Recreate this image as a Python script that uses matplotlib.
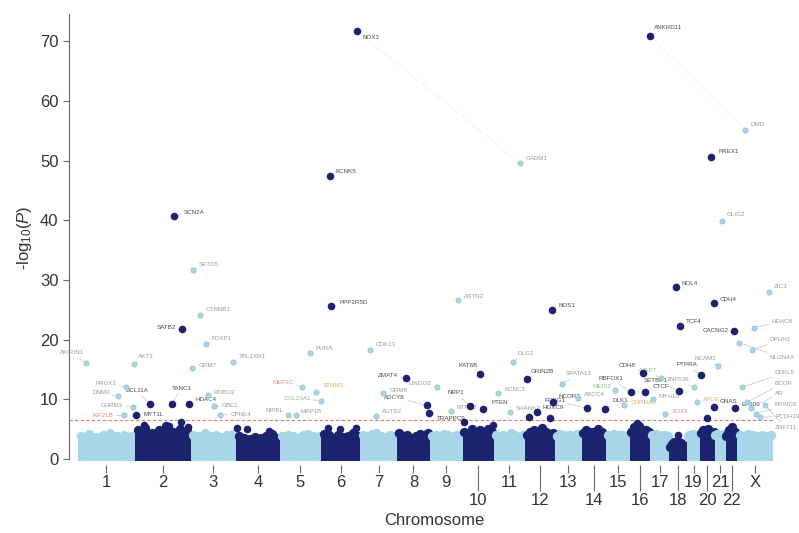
import numpy as np
import matplotlib.pyplot as plt

plt.rcParams['font.family'] = ['Liberation Sans', 'DejaVu Sans']
plt.rcParams['mathtext.fontset'] = 'custom'
plt.rcParams['mathtext.rm'] = 'Liberation Sans'
plt.rcParams['mathtext.it'] = 'Liberation Sans:italic'

# chromosome layout (Mb)
chrom_names = ['1', '2', '3', '4', '5', '6', '7', '8', '9', '10', '11', '12',
               '13', '14', '15', '16', '17', '18', '19', '20', '21', '22', 'X']
chrom_len = [249, 243, 198, 191, 181, 171, 159, 146, 141, 136, 135, 134,
             115, 107, 103, 90, 81, 78, 59, 63, 48, 51, 155]

# upper edge of the dense background cloud, per chromosome bins (-log10 P)
cloud_top = [
    [3.9, 4.2, 3.7, 4.0, 4.3, 3.8, 4.1, 3.9],
    [4.8, 5.2, 4.4, 4.9, 5.6, 4.6, 5.0, 4.7],
    [4.0, 3.8, 4.3, 3.9, 4.1, 3.7, 4.0, 4.2],
    [3.9, 3.6, 3.4, 3.7, 3.5, 3.9, 4.2, 3.6],
    [3.8, 4.1, 3.9, 3.6, 4.0, 4.2, 3.8, 3.9],
    [4.2, 4.0, 3.6, 4.1, 3.7, 3.9, 4.3, 3.8],
    [4.0, 3.8, 4.2, 4.4, 3.9, 3.7, 4.1, 3.9],
    [4.3, 3.9, 4.1, 3.6, 3.8, 4.2, 4.0, 4.4],
    [3.9, 4.1, 3.8, 4.2, 4.0, 3.7, 4.1, 3.9],
    [4.6, 4.2, 5.1, 4.4, 4.8, 4.3, 5.0, 4.5],
    [4.0, 3.8, 4.1, 3.9, 4.3, 4.0, 3.7, 4.1],
    [4.1, 4.5, 4.8, 4.3, 5.2, 4.6, 4.2, 4.4],
    [3.9, 4.2, 4.0, 3.8, 4.1, 3.9, 4.2, 4.0],
    [4.4, 4.9, 4.2, 4.6, 4.3, 5.0, 4.5, 4.1],
    [4.0, 3.8, 4.2, 3.9, 4.1, 4.0, 3.8, 4.1],
    [4.6, 5.4, 4.8, 5.6, 5.0, 4.4, 4.9, 4.5],
    [4.1, 3.9, 4.2, 4.0, 3.8, 4.1, 4.0, 3.9],
    [2.0, 2.5, 2.8, 2.6, 2.9, 2.7, 2.4, 2.1],
    [3.9, 4.1, 3.8, 4.2, 4.0, 3.9, 4.1, 4.0],
    [4.3, 4.8, 4.2, 4.6, 5.0, 4.4, 4.1, 4.5],
    [4.0, 4.2, 3.9, 4.1, 3.8, 4.0, 4.2, 3.9],
    [3.8, 4.4, 4.9, 4.2, 5.3, 4.0, 4.6, 3.9],
    [4.1, 3.9, 4.2, 4.0, 3.8, 4.1, 3.9, 4.0],
]

# top hits: chromosome, position (Mb), -log10 P, gene
hit_chrom = ['6', '16', '20', '6', '2', '6', '12', '2', '18', '20', '18', '22',
             '8', '10', '12', '2', '2', '2', '2', '8', '8', '10', '10', '12',
             '12', '14', '14', '16', '16', '16', '18', '20', '20', '22',
             '1', '1', '1', '1', '1', '1', '3', '3', '3', '3', '3', '3', '3', '3',
             '5', '5', '5', '5', '5', '5', '7', '7', '7', '9', '9', '9',
             '11', '11', '11', '11', '13', '13', '15', '15', '17', '17', '17',
             '19', '19', '21', '21', 'X', 'X', 'X', 'X', 'X', 'X', 'X', 'X',
             'X', 'X', 'X',
             '2', '2', '2', '2', '4', '4', '4', '6', '6', '6', '8', '10', '10',
             '12', '12', '16', '18', '20']
hit_pos = [156, 88, 47, 38, 170, 43, 120, 205, 31, 60, 49, 37,
           40, 76, 11, 65, 160, 238, 4, 132, 140, 33, 90, 54,
           124, 24, 102, 5, 60, 67, 45, 3, 58, 41,
           35, 245, 240, 200, 210, 175, 10, 41, 67, 7, 185, 75, 100, 130,
           97, 132, 160, 178, 36, 70, 40, 100, 69, 121, 30, 90,
           115, 85, 20, 70, 30, 100, 40, 80, 45, 10, 65,
           30, 45, 32, 15, 34, 138, 64, 72, 6, 20, 40, 60,
           80, 100, 120,
           40, 199, 150, 230, 4, 48, 144, 30, 82, 152, 5, 5, 133,
           20, 110, 30, 40, 30]
hit_logp = [71.7, 70.9, 50.6, 47.4, 40.7, 25.6, 25.0, 21.8, 28.8, 26.1, 22.3, 21.4,
            13.6, 14.2, 13.4, 9.2, 9.2, 9.2, 7.4, 9.0, 7.7, 8.9, 8.4, 7.9,
            9.5, 8.5, 8.4, 11.2, 14.4, 11.2, 11.4, 14.1, 8.7, 8.5,
            16.1, 15.9, 8.7, 7.3, 12.0, 10.5, 31.7, 24.1, 19.3, 15.2, 16.3, 10.7, 8.8, 7.4,
            12.1, 17.7, 11.3, 9.8, 7.4, 7.3, 18.3, 11.0, 7.2, 26.6, 12.0, 8.0,
            49.6, 16.3, 11.0, 7.8, 12.6, 10.3, 11.5, 9.0, 13.5, 10.0, 7.5,
            12.0, 9.5, 39.9, 15.5, 55.1, 28.0, 18.3, 22.0, 19.5, 12.0, 9.5, 8.6,
            7.6, 7.0, 9.0,
            5.7, 6.2, 5.5, 5.4, 5.2, 5.0, 4.7, 5.2, 5.0, 5.2, 4.3, 6.2, 5.7,
            7.0, 6.9, 6.0, 4.0, 6.9]
hit_gene = ['NOX3', 'ANKRD11', 'PREX1', 'KCNK5', 'SCN2A', 'PPP2R5D', 'NOS1', 'SATB2',
            'NOL4', 'CDH4', 'TCF4', 'CACNG2',
            'ZMAT4', 'KAT6B', 'GRIN2B', 'BCL11A', 'TANC1', 'HDAC4', 'MYT1L', 'ADCY8',
            'TRAPPC9', 'NRP1', 'PTEN', 'HOXC9',
            'NCOR2', 'FOXG1', 'DLK1', 'RBFOX1', 'CDH8', 'CTCF', 'SETBP1', 'PTPRA', 'GNAS',
            'EP300',
            'AKIRIN1', 'AKT3', 'CHRM3', 'KIF21B', 'PROX1', 'DNM3', 'SETD5', 'CTNNB1',
            'FOXP1', 'GRM7', 'TBL1XR1', 'ROBO2', 'GBE1', 'CPNE4',
            'MEF2C', 'PURA', 'TENM2', 'COL23A1', 'NIPBL', 'MAP1B', 'CDK13', 'GRM8',
            'AUTS2', 'ASTN2', 'LINGO2', 'NTRK2',
            'CADM1', 'DLG2', 'KCNC1', 'SHANK2', 'SPATA13', 'ABCC4', 'MEIS2', 'CHRNA5',
            'MAPT', 'MYH10', 'SOX9',
            'ZNF536', 'APOE', 'OLIG2', 'NCAM2', 'DMD', 'ZIC3', 'OPHN1', 'HDAC8',
            'NLGN4X', 'CDKL5', 'BCOR', 'AR',
            'BRWD3', 'PCDH19', 'ZNF711'] + [''] * 18

# label placement, offsets in pixels (dx right, dy down), same order as the hits
label_px = [(6, 7), (4, -8), (7, -5), (6, -5), (10, -4), (8, -4), (6, -4), (-6, -1),
            (6, -4), (6, -4), (6, -4), (-6, -1),
            (-8, -2), (-2, -9), (4, -8), (-2, -14), (0, -16), (6, -5), (8, 0), (-22, -8),
            (8, 5), (-6, -13), (8, -6), (6, -4),
            (6, -6), (-22, -8), (8, -8), (-8, -14), (-8, -8), (8, -6), (-12, -10),
            (-4, -10), (6, -6), (6, -4),
            (-2, -10), (4, -8), (-10, -2), (-10, 0), (-10, -4), (-8, -4), (6, -5), (6, -6),
            (6, -5), (6, -3), (6, -5), (6, -3), (8, -1), (10, 0),
            (-8, -4), (6, -5), (6, -6), (-10, -2), (-4, -4), (5, -4), (6, -5), (6, -3),
            (6, -5), (6, -4), (-6, -4), (6, -4),
            (6, -4), (4, -8), (6, -4), (6, -4), (4, -10), (6, -3), (-4, -4), (6, -3),
            (-4, -8), (6, -3), (6, -3),
            (-4, -8), (6, -3), (5, -6), (-2, -8), (5, -6), (5, -5), (18, -10), (18, -6),
            (31, 15), (33, -15), (28, -19), (24, -14),
            (19, -9), (15, -1), (10, 22)] + [(0, 0)] * 18

label_col = {'MEF2C': '#d98a8a', 'KIF21B': '#d98a8a', 'COL23A1': '#8fbf8f',
             'TENM2': '#d8b36e', 'MEIS2': '#8fbf8f', 'CHRNA5': '#d8b36e',
             'MAPT': '#8fbf8f', 'SOX9': '#d98a8a', 'APOE': '#d8b36e'}

light = '#a9d5e8'
dark = '#1c236e'

starts = np.concatenate([[0], np.cumsum(chrom_len)[:-1]])
centers = starts + np.array(chrom_len) / 2
cidx = {c: i for i, c in enumerate(chrom_names)}

fig = plt.figure(figsize=(7.99, 5.33), dpi=100)
ax = fig.add_axes([69 / 799, 68 / 533, 730 / 799, 453.75 / 533])

# background cloud
for i, tops in enumerate(cloud_top):
    col = dark if i % 2 == 1 and i < 22 else light
    n = len(tops)
    w = chrom_len[i] / n
    lefts = starts[i] + np.arange(n) * w
    tops = np.array(tops)
    ax.bar(lefts, tops + 0.3, width=w, bottom=-0.3, align='edge', color=col, lw=0, zorder=1)
    ax.scatter(lefts + w / 2, tops, s=45, color=col, lw=0, zorder=1)

# genome-wide significance line
ax.hlines(6.5, -39, starts[-1] + chrom_len[-1], colors='#e07a7a', linestyles=(0, (3, 2)),
          lw=0.8, zorder=2)

hx = np.array([starts[cidx[c]] + p for c, p in zip(hit_chrom, hit_pos)])
hy = np.array(hit_logp)
is_dark = np.array([cidx[c] % 2 == 1 and cidx[c] < 22 for c in hit_chrom])

# faint long leaders between the top hits
for a, b in [('NOX3', 'CADM1'), ('ANKRD11', 'DMD')]:
    ia, ib = hit_gene.index(a), hit_gene.index(b)
    ax.plot([hx[ia], hx[ib]], [hy[ia], hy[ib]], color='#dddddd', lw=0.6, ls=':', zorder=1)

ax.scatter(hx[is_dark], hy[is_dark], s=30, color=dark, lw=0, zorder=4)
ax.scatter(hx[~is_dark], hy[~is_dark], s=14, facecolor=light, edgecolor='#8bbfd6',
           lw=0.5, zorder=4)

for i, g in enumerate(hit_gene):
    if not g:
        continue
    dx, dy = label_px[i]
    col = label_col.get(g, '#4a4a4a' if is_dark[i] else '#9a9a9a')
    ax.annotate(g, (hx[i], hy[i]), xytext=(dx * 0.72, -dy * 0.72), textcoords='offset points',
                fontsize=4.5, color=col, ha='right' if dx < 0 else 'left', va='center',
                arrowprops=dict(arrowstyle='-', lw=0.4, color='#b5b5b5', shrinkA=0, shrinkB=2),
                zorder=3, annotation_clip=False)

ax.set_xlim(-39, 3148)
ax.set_ylim(-1, 75)

row2 = ['10', '12', '14', '16', '18', '20', '22']
maj = [i for i, c in enumerate(chrom_names) if c not in row2]
mnr = [i for i, c in enumerate(chrom_names) if c in row2]
ax.set_xticks(centers[maj], [chrom_names[i] for i in maj])
ax.set_xticks(centers[mnr], [chrom_names[i] for i in mnr], minor=True)
ax.tick_params(axis='x', which='major', length=5.5, width=0.8, color='#666', pad=1.5,
               labelsize=12, labelcolor='#333')
ax.tick_params(axis='x', which='minor', length=19, width=0.8, color='#666', pad=1.5,
               labelsize=12, labelcolor='#333')
ax.set_yticks(range(0, 71, 10))
ax.tick_params(axis='y', length=4, width=0.8, color='#666', labelsize=12, labelcolor='#333')

for s in ['top', 'right', 'bottom']:
    ax.spines[s].set_visible(False)
ax.spines['left'].set_bounds(0, 74.5)
ax.spines['left'].set_color('#666')

ax.set_xlabel('Chromosome', fontsize=12, color='#333', labelpad=3)
ax.set_ylabel('-log$_{10}$($P$)', fontsize=12, color='#333', labelpad=4)

fig.savefig('out.png', dpi=100)
